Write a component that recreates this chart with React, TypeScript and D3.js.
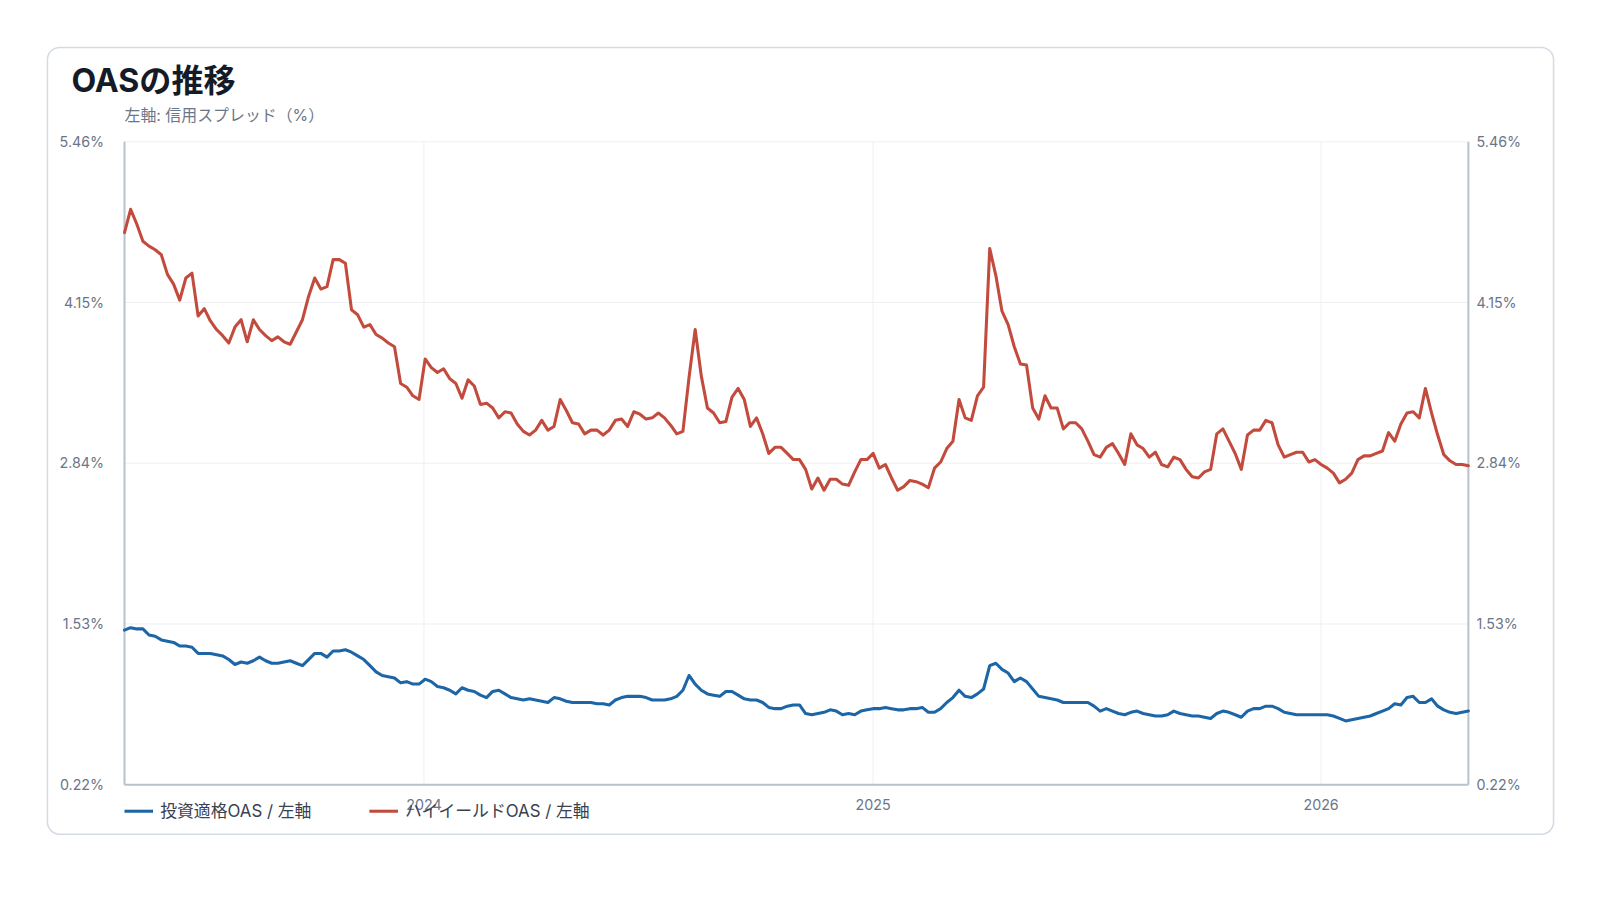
import React from 'react';
import * as d3 from 'd3';

const START_DATE = '2023-05-02';
const END_DATE = '2026-05-01';
const STEP_DAYS = 5;
const Y_TICKS = [0.22, 1.53, 2.84, 4.15, 5.46];
const YEAR_TICKS = ['2024-01-01', '2025-01-01', '2026-01-01'];
const TITLE = 'OASの推移';
const SUBTITLE = '左軸: 信用スプレッド（%）';
const SERIES_NAMES = ['投資適格OAS / 左軸', 'ハイイールドOAS / 左軸'];
const SERIES_COLORS = ['#1c65a6', '#c24b3d'];

// Investment grade OAS (%), every 5 days
const igOAS = [
  1.48, 1.50, 1.49, 1.49, 1.44, 1.43, 1.40, 1.39, 1.38, 1.35,
  1.35, 1.34, 1.29, 1.29, 1.29, 1.28, 1.27, 1.24, 1.20, 1.22,
  1.21, 1.23, 1.26, 1.23, 1.21, 1.21, 1.22, 1.23, 1.21, 1.19,
  1.24, 1.29, 1.29, 1.26, 1.31, 1.31, 1.32, 1.30, 1.27, 1.24,
  1.19, 1.14, 1.11, 1.10, 1.09, 1.05, 1.06, 1.04, 1.04, 1.08,
  1.06, 1.02, 1.01, 0.99, 0.96, 1.01, 0.99, 0.98, 0.95, 0.93,
  0.98, 0.99, 0.96, 0.93, 0.92, 0.91, 0.92, 0.91, 0.90, 0.89,
  0.93, 0.92, 0.90, 0.89, 0.89, 0.89, 0.89, 0.88, 0.88, 0.87,
  0.91, 0.93, 0.94, 0.94, 0.94, 0.93, 0.91, 0.91, 0.91, 0.92,
  0.94, 0.99, 1.11, 1.04, 0.99, 0.96, 0.95, 0.94, 0.98, 0.98,
  0.95, 0.92, 0.91, 0.91, 0.89, 0.85, 0.84, 0.84, 0.86, 0.87,
  0.87, 0.80, 0.79, 0.80, 0.81, 0.83, 0.82, 0.79, 0.80, 0.79,
  0.82, 0.83, 0.84, 0.84, 0.85, 0.84, 0.83, 0.83, 0.84, 0.84,
  0.85, 0.81, 0.81, 0.84, 0.89, 0.93, 0.99, 0.94, 0.93, 0.96,
  1.00, 1.19, 1.21, 1.16, 1.13, 1.06, 1.09, 1.06, 1.00, 0.94,
  0.93, 0.92, 0.91, 0.89, 0.89, 0.89, 0.89, 0.89, 0.86, 0.82,
  0.84, 0.82, 0.80, 0.79, 0.81, 0.82, 0.80, 0.79, 0.78, 0.78,
  0.79, 0.82, 0.80, 0.79, 0.78, 0.78, 0.77, 0.76, 0.80, 0.82,
  0.81, 0.79, 0.77, 0.82, 0.84, 0.84, 0.86, 0.86, 0.84, 0.81,
  0.80, 0.79, 0.79, 0.79, 0.79, 0.79, 0.79, 0.78, 0.76, 0.74,
  0.75, 0.76, 0.77, 0.78, 0.80, 0.82, 0.84, 0.88, 0.87, 0.93,
  0.94, 0.89, 0.89, 0.92, 0.86, 0.83, 0.81, 0.80, 0.81, 0.82,
];

// High yield OAS (%), every 5 days
const hyOAS = [
  4.72, 4.91, 4.79, 4.65, 4.61, 4.58, 4.54, 4.38, 4.30, 4.17,
  4.35, 4.39, 4.04, 4.10, 4.00, 3.93, 3.88, 3.82, 3.95, 4.01,
  3.83, 4.01, 3.93, 3.88, 3.84, 3.87, 3.83, 3.81, 3.91, 4.01,
  4.20, 4.35, 4.26, 4.28, 4.50, 4.50, 4.47, 4.09, 4.05, 3.95,
  3.97, 3.89, 3.86, 3.82, 3.79, 3.49, 3.46, 3.39, 3.36, 3.69,
  3.62, 3.58, 3.61, 3.53, 3.49, 3.37, 3.52, 3.47, 3.32, 3.33,
  3.29, 3.21, 3.26, 3.25, 3.16, 3.10, 3.07, 3.11, 3.19, 3.11,
  3.14, 3.36, 3.27, 3.17, 3.16, 3.08, 3.11, 3.11, 3.07, 3.11,
  3.19, 3.20, 3.14, 3.26, 3.24, 3.20, 3.21, 3.25, 3.21, 3.15,
  3.08, 3.10, 3.54, 3.93, 3.55, 3.29, 3.25, 3.17, 3.18, 3.38,
  3.45, 3.36, 3.14, 3.21, 3.08, 2.92, 2.97, 2.97, 2.92, 2.87,
  2.87, 2.79, 2.63, 2.72, 2.62, 2.71, 2.71, 2.67, 2.66, 2.77,
  2.87, 2.87, 2.92, 2.80, 2.83, 2.72, 2.62, 2.65, 2.70, 2.69,
  2.67, 2.64, 2.80, 2.85, 2.96, 3.02, 3.36, 3.21, 3.19, 3.39,
  3.46, 4.59, 4.37, 4.08, 3.97, 3.79, 3.65, 3.64, 3.29, 3.20,
  3.39, 3.29, 3.29, 3.12, 3.17, 3.17, 3.12, 3.02, 2.91, 2.89,
  2.97, 3.00, 2.92, 2.83, 3.08, 2.99, 2.96, 2.89, 2.93, 2.83,
  2.81, 2.89, 2.87, 2.79, 2.73, 2.72, 2.77, 2.79, 3.08, 3.12,
  3.02, 2.92, 2.79, 3.07, 3.11, 3.11, 3.19, 3.17, 2.99, 2.89,
  2.91, 2.93, 2.93, 2.85, 2.87, 2.83, 2.80, 2.76, 2.68, 2.71,
  2.76, 2.87, 2.90, 2.90, 2.92, 2.94, 3.09, 3.02, 3.16, 3.25,
  3.26, 3.21, 3.45, 3.25, 3.07, 2.91, 2.86, 2.83, 2.83, 2.82,
];

const FONT = "Inter, 'Noto Sans CJK JP', 'Noto Sans', sans-serif";
const K = 1600 / 1568;

export default function App() {
  const parse = d3.timeParse('%Y-%m-%d');
  const start = parse(START_DATE) as Date;
  const end = parse(END_DATE) as Date;

  const left = 122, right = 1439, top = 139, bottom = 769;

  const x = d3.scaleTime().domain([start, end]).range([left, right]);
  const y = d3.scaleLinear().domain([Y_TICKS[0], Y_TICKS[Y_TICKS.length - 1]]).range([bottom, top]);

  const toPoints = (vals: number[]) =>
    vals.map((v, i) => ({ d: d3.timeDay.offset(start, i * STEP_DAYS), v }));

  const line = d3
    .line<{ d: Date; v: number }>()
    .x((p) => x(p.d))
    .y((p) => y(p.v));

  const series = [igOAS, hyOAS];
  const yearDates = YEAR_TICKS.map((s) => parse(s) as Date);

  const tickColor = '#6b7588';
  const axisColor = '#b9c2cf';
  const gridColor = '#eef0f4';

  return (
    <svg
      width={1600}
      height={900}
      style={{ position: 'absolute', left: 0, top: 0, fontFamily: FONT }}
    >
      <rect x={0} y={0} width={1600} height={900} fill="#ffffff" />
      <g transform={`scale(${K})`}>
        <rect
          x={46.5}
          y={46.5}
          width={1476}
          height={771}
          rx={12}
          fill="#ffffff"
          stroke="#d5dbe4"
          strokeWidth={1.5}
        />
        <text x={70} y={90} fontSize={31.5} fontWeight={700} fill="#151b26">
          {TITLE}
        </text>
        <text x={122} y={119} fontSize={15.6} fill="#6b7588">
          {SUBTITLE}
        </text>

        {/* grid */}
        {Y_TICKS.map((t) => (
          <line key={'gy' + t} x1={left} x2={right} y1={y(t)} y2={y(t)} stroke={gridColor} strokeWidth={1} />
        ))}
        {yearDates.map((d, i) => (
          <line key={'gx' + i} x1={x(d)} x2={x(d)} y1={top} y2={bottom} stroke={gridColor} strokeWidth={1} />
        ))}

        {/* axes */}
        <line x1={left} x2={left} y1={top} y2={bottom} stroke={axisColor} strokeWidth={2} />
        <line x1={right} x2={right} y1={top} y2={bottom} stroke={axisColor} strokeWidth={2} />
        <line x1={left} x2={right} y1={bottom} y2={bottom} stroke={axisColor} strokeWidth={2} />

        {Y_TICKS.map((t) => (
          <g key={'ty' + t}>
            <text x={102} y={y(t)} dy="0.35em" textAnchor="end" fontSize={14} fill={tickColor}>
              {t.toFixed(2)}%
            </text>
            <text x={1447} y={y(t)} dy="0.35em" textAnchor="start" fontSize={14} fill={tickColor}>
              {t.toFixed(2)}%
            </text>
          </g>
        ))}
        {yearDates.map((d, i) => (
          <text key={'tx' + i} x={x(d)} y={789} dy="0.35em" textAnchor="middle" fontSize={14} fill={tickColor}>
            {d3.timeFormat('%Y')(d)}
          </text>
        ))}

        {/* series */}
        {series.map((vals, i) => (
          <path
            key={'s' + i}
            d={line(toPoints(vals)) || ''}
            fill="none"
            stroke={SERIES_COLORS[i]}
            strokeWidth={3}
            strokeLinejoin="round"
            strokeLinecap="round"
          />
        ))}

        {/* legend */}
        {SERIES_NAMES.map((name, i) => {
          const lx = 122 + i * 240;
          return (
            <g key={'lg' + i}>
              <line x1={lx} x2={lx + 28} y1={795} y2={795} stroke={SERIES_COLORS[i]} strokeWidth={3} />
              <text x={lx + 35} y={795} dy="0.35em" fontSize={16.5} fill="#3a4150">
                {name}
              </text>
            </g>
          );
        })}
      </g>
    </svg>
  );
}
